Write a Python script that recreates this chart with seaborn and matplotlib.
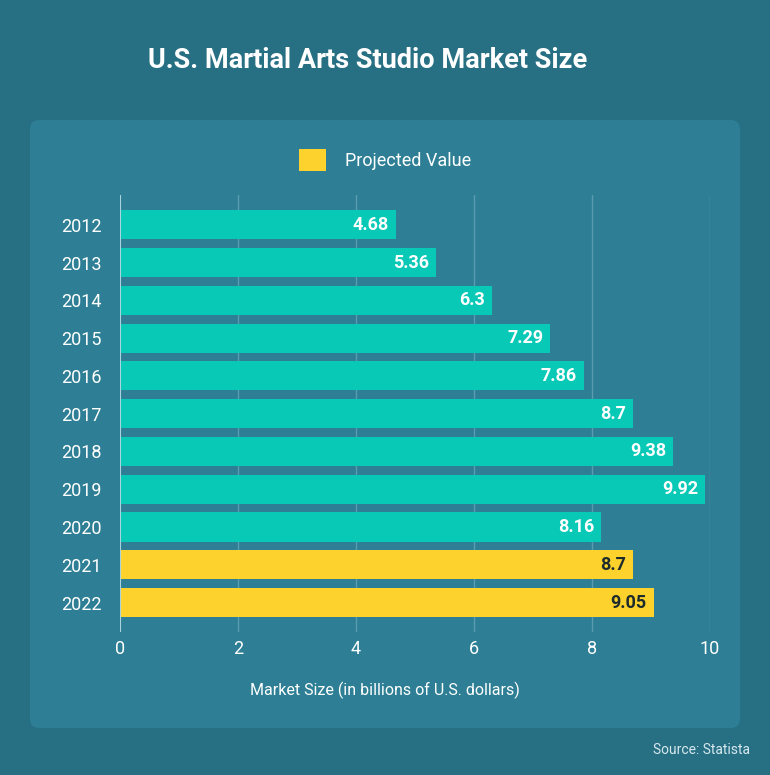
import matplotlib
matplotlib.use('Agg')
import matplotlib.pyplot as plt
from matplotlib.patches import FancyBboxPatch, Patch
from matplotlib import font_manager
import seaborn as sns
import pandas as pd

years = ['2012', '2013', '2014', '2015', '2016', '2017', '2018', '2019', '2020', '2021', '2022']
values = [4.68, 5.36, 6.3, 7.29, 7.86, 8.7, 9.38, 9.92, 8.16, 8.7, 9.05]
status = ['Actual'] * 9 + ['Projected Value'] * 2
x_ticks = [0, 2, 4, 6, 8, 10]

BG = '#276f83'
PANEL = '#2e7f95'
TEAL = '#08c9b6'
YELLOW = '#fdd22c'
TEXT = '#ffffff'

df = pd.DataFrame({'Year': years, 'Value': values, 'Status': status})

sns.set_theme(style='white')
plt.rcParams['font.family'] = ['Roboto', 'DejaVu Sans']

# medium weight if the font has one, else bold
names = {f.name for f in font_manager.fontManager.ttflist}
heavy = dict(family=['Roboto Medium', 'DejaVu Sans'], fontweight='normal') if 'Roboto Medium' in names \
    else dict(fontweight='bold')

fig = plt.figure(figsize=(7.7, 7.75), dpi=100, facecolor=BG)

# panel behind the chart
panel = FancyBboxPatch((30 / 770, 1 - 728 / 775), 710 / 770, 608 / 775,
                       boxstyle='round,pad=0,rounding_size=0.012',
                       transform=fig.transFigure, facecolor=PANEL, edgecolor='none', zorder=-1)
fig.patches.append(panel)

ax = fig.add_axes([120 / 770, 1 - 632 / 775, 590 / 770, 437 / 775])
ax.set_facecolor('none')
ax.set_zorder(1)

sns.barplot(data=df, x='Value', y='Year', hue='Status', orient='h',
            palette={'Actual': TEAL, 'Projected Value': YELLOW},
            width=0.77, dodge=False, legend=False, ax=ax, saturation=1, linewidth=0)

ax.set_xlim(0, 10)
ax.set_ylim(10.78, -0.79)
ax.set_xticks(x_ticks)
ax.set_xticklabels([str(t) for t in x_ticks])
for t in x_ticks[1:]:
    ax.axvline(t, color='#5a9bb0', lw=1, zorder=0)
ax.axvline(0, color='#a9d3df', lw=1.5, zorder=3)

for s in ax.spines.values():
    s.set_visible(False)

ax.tick_params(axis='both', length=0, labelsize=13, labelcolor=TEXT)
ax.tick_params(axis='x', pad=6)
ax.tick_params(axis='y', pad=13)
ax.set_ylabel('')
ax.set_xlabel('')

for i, (v, st) in enumerate(zip(values, status)):
    c = '#1c2b2b' if st == 'Projected Value' else TEXT
    ax.text(v - 0.12, i, f'{v:g}', ha='right', va='center', color=c,
            fontsize=13, **heavy)

fig.text(385 / 770, 1 - 690 / 775, 'Market Size (in billions of U.S. dollars)', ha='center', va='center',
         color=TEXT, fontsize=11.5)

fig.text(368 / 770, 1 - 60 / 775, 'U.S. Martial Arts Studio Market Size', ha='center', va='center',
         color=TEXT, fontsize=19.5, **heavy)

handles = [Patch(facecolor=YELLOW, edgecolor='none', label='Projected Value')]
fig.legend(handles=handles, loc='center', bbox_to_anchor=(385 / 770, 1 - 160 / 775), frameon=False,
           fontsize=13, labelcolor=TEXT, handlelength=1.45, handleheight=1.45, handletextpad=1.05)

fig.text(750 / 770, 1 - 750 / 775, 'Source: Statista', ha='right', va='center',
         color='#d6e8ee', fontsize=10)

plt.savefig('out.png', dpi=100, facecolor=BG)
plt.close()
